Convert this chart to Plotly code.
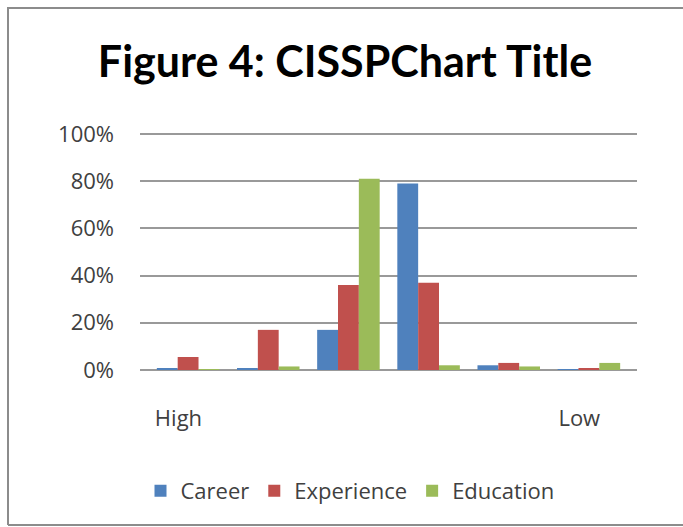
import plotly.graph_objects as go

positions = [1, 2, 3, 4, 5, 6]
tick_labels = ["High", "", "", "", "", "Low"]
career = [0.5, 0.5, 17, 79, 2, 0.3]
experience = [5.5, 17, 36, 37, 3, 0.5]
education = [0.3, 1.5, 81, 2, 1.5, 3]

series = [("Career", career, "#4F81BD"),
          ("Experience", experience, "#C0504D"),
          ("Education", education, "#9BBB59")]

fig = go.Figure()
for name, vals, col in series:
    fig.add_trace(go.Bar(x=positions, y=[v / 100 for v in vals], name=name,
                         marker=dict(color=col, line=dict(width=0))))

L, R, T, B = 140, 683 - 637, 132, 527 - 370
W = 683 - L - R
H = 527 - T - B

def px(x):
    return (x - L) / W

def py(y):
    return (527 - B - y) / H

label_pos = [p - 0.12 for p in positions]

border = "M {x0},{y0} L {x0},{y1} L {x2},{y1} M {x0},{y0} L {x2},{y0}".format(
    x0=px(8), y0=py(525), y1=py(8), x2=px(683))

fig.update_layout(
    width=683, height=527,
    margin=dict(l=L, r=R, t=T, b=B),
    paper_bgcolor="white", plot_bgcolor="white",
    font=dict(family="Open Sans, sans-serif", color="#404040"),
    title=dict(text="<b>Figure 4: CISSPChart Title</b>", x=345 / 683, xanchor="center",
               y=1 - 62 / 527, yanchor="middle", yref="container",
               font=dict(size=43, color="#000000", family="Lato, sans-serif")),
    barmode="group", bargap=0.22, bargroupgap=0.0,
    showlegend=True,
    legend=dict(orientation="h", x=px(350), xanchor="center", y=py(491), yanchor="middle",
                font=dict(size=22, color="#404040"), itemwidth=30,
                traceorder="normal"),
    xaxis=dict(tickmode="array", tickvals=label_pos, ticktext=tick_labels,
               range=[0.4, 6.6], showgrid=False, zeroline=False, showline=False,
               ticks="", tickfont=dict(size=22, color="#404040"),
               ticklabelstandoff=33),
    yaxis=dict(range=[0, 1.008], tickvals=[0, 0.2, 0.4, 0.6, 0.8, 1.0],
               tickformat=".0%", showgrid=True, gridcolor="#999999", gridwidth=2,
               zeroline=True, zerolinecolor="#999999", zerolinewidth=2,
               showline=False, ticks="", tickfont=dict(size=22, color="#404040"),
               ticklabelstandoff=25),
    shapes=[dict(type="path", xref="paper", yref="paper", path=border,
                 line=dict(color="#8c8c8c", width=2), layer="below")],
)

fig.write_html("out.html")
